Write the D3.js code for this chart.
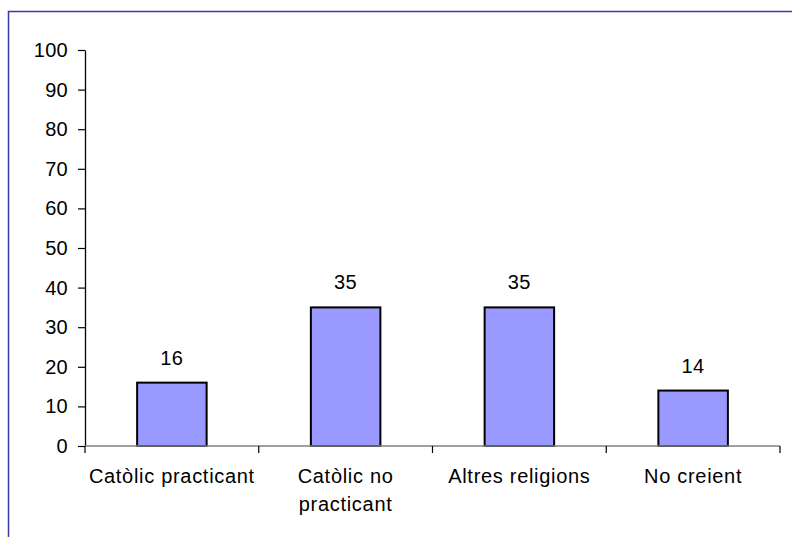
<!DOCTYPE html>
<html><head><meta charset="utf-8">
<script src="https://cdn.jsdelivr.net/npm/d3@7"></script>
<style>body{margin:0;background:#fff}svg{display:block}text{font-family:"Liberation Sans",Arial,sans-serif;fill:#000}</style>
</head><body>
<svg id="c" width="792" height="537"></svg>
<script>
const categories = [["Catòlic practicant"], ["Catòlic no", "practicant"], ["Altres religions"], ["No creient"]];
const categoryNames = ["Catòlic practicant", "Catòlic no practicant", "Altres religions", "No creient"];
const values = [16, 35, 35, 14];
const yTicks = [0, 10, 20, 30, 40, 50, 60, 70, 80, 90, 100];

const svg = d3.select("#c");
// frame
svg.append("path").attr("d", "M8.5,540 V11.5 H800").attr("fill", "none").attr("stroke", "#3b3ba8").attr("stroke-width", 1.5);

const x = d3.scaleBand().domain(categoryNames).range([85, 780]).paddingInner(0).paddingOuter(0);
const y = d3.scaleLinear().domain([0, 100]).range([446, 50]);
const bw = x.bandwidth() * 0.4;
const fs = "20px";

const g = svg.append("g");
// y axis
const ya = g.append("g").attr("transform", "translate(85,0)").call(d3.axisLeft(y).tickValues(yTicks).tickSize(7).tickSizeOuter(0).tickPadding(10));
ya.select(".domain").attr("stroke", "#000").attr("stroke-width", 1.3);
ya.selectAll(".tick line").attr("stroke", "#000").attr("stroke-width", 1.2);
ya.selectAll("text").style("font-size", fs).style("font-family", '"Liberation Sans",Arial,sans-serif').style("letter-spacing", "0.3px").attr("fill", "#000");

// bars
g.selectAll("rect.bar").data(values).join("rect").attr("class", "bar")
  .attr("x", (d, i) => x(categoryNames[i]) + (x.bandwidth() - bw) / 2)
  .attr("y", d => y(d)).attr("width", bw).attr("height", d => y(0) - y(d))
  .attr("fill", "#9999ff").attr("stroke", "#000").attr("stroke-width", 2);

// x axis
const xa = g.append("g").attr("transform", "translate(0,446)");
xa.append("line").attr("x1", 85).attr("x2", 780).attr("stroke", "#808080").attr("stroke-width", 1.5);
const bounds = categoryNames.map(c => x(c)).concat([x.range()[1]]);
xa.selectAll("line.t").data(bounds).join("line").attr("class", "t")
  .attr("x1", d => d).attr("x2", d => d).attr("y1", 0).attr("y2", 7).attr("stroke", "#000").attr("stroke-width", 1.2);

// category labels
categories.forEach((lines, i) => {
  const cx = x(categoryNames[i]) + x.bandwidth() / 2;
  const t = g.append("text").attr("x", cx).attr("y", 483)
    .attr("text-anchor", "middle").style("font-size", fs).style("letter-spacing", "0.7px");
  lines.forEach((l, j) => t.append("tspan").attr("x", cx).attr("dy", j ? 28 : 0).text(l));
});

// value labels
g.selectAll("text.v").data(values).join("text").attr("class", "v")
  .attr("x", (d, i) => x(categoryNames[i]) + x.bandwidth() / 2)
  .attr("y", d => y(d) - 18).attr("text-anchor", "middle").style("font-size", fs).style("letter-spacing", "0.6px").text(d => d);
</script>
</body></html>
